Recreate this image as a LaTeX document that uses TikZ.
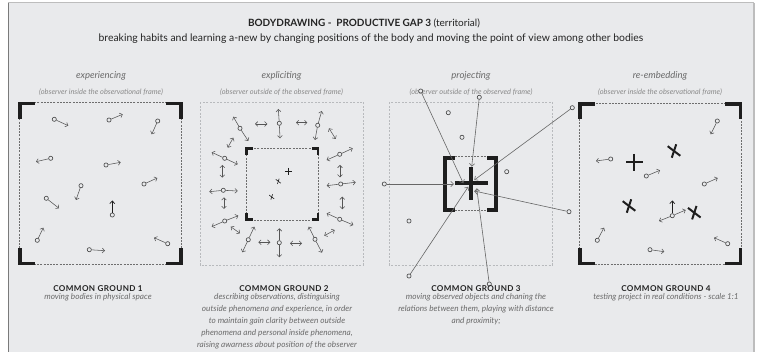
\documentclass[tikz,border=0pt]{standalone}
\usepackage{fontspec}
\setmainfont{Lato}
\usetikzlibrary{arrows.meta,calc}
\definecolor{bg}{HTML}{E9EAEC}
\definecolor{ink}{HTML}{1E1E1E}
\definecolor{arrc}{HTML}{555555}
\definecolor{circc}{HTML}{404040}
\definecolor{txt}{HTML}{232323}
\definecolor{itg}{HTML}{6A6A6A}
\definecolor{subg}{HTML}{8A8A8A}
\definecolor{ldash}{HTML}{B8BABD}
\definecolor{ddash}{HTML}{6E6E6E}
\definecolor{linec}{HTML}{666666}
\definecolor{frl}{HTML}{7A7A7A}
\definecolor{frr}{HTML}{BDBDBD}
\tikzset{
  body/.style={circle,draw=circc,fill=bg,inner sep=0pt,minimum size=4.2pt,line width=0.6pt},
  mv/.style={draw=arrc,line width=0.55pt,-{Straight Barb[length=2.4pt,width=4.8pt]}},
  mvk/.style={draw=ink,line width=0.75pt,-{Straight Barb[length=2.6pt,width=5pt]}},
  mvd/.style={draw=arrc,line width=0.55pt,{Straight Barb[length=2.4pt,width=4.8pt]}-{Straight Barb[length=2.4pt,width=4.8pt]}},
  ray/.style={draw=linec,line width=0.6pt,-{Straight Barb[length=2.8pt,width=5.2pt]}},
  outerdash/.style={draw=ldash,line width=0.6pt,dash pattern=on 2pt off 1.5pt},
  innerdash/.style={draw=ddash,line width=0.6pt,dash pattern=on 2pt off 1.2pt},
  bigmark/.style={draw=ink,line width=2pt},
  smallmark/.style={draw=ink,line width=0.6pt},
  ttl/.style={text=txt,inner sep=0pt},
  head/.style={text=itg,inner sep=0pt,font=\itshape\fontsize{9.5}{10}\selectfont},
  subhead/.style={text=subg,inner sep=0pt,font=\itshape\fontsize{7.4}{8}\selectfont},
  cg/.style={text=txt,inner sep=0pt,font=\bfseries\fontsize{8.1}{9}\selectfont\addfontfeatures{LetterSpace=5}},
  desc/.style={text=itg,inner sep=0pt,align=center,anchor=north,font=\itshape\fontsize{8.2}{11.9}\selectfont},
}
% body with one arrow
\newcommand{\bod}[3]{%
  \node[body] (#1) at (#2) {};
  \coordinate (#1t) at (#3);
  \draw[mv] (#1) -- (#1t);}
% body with two arrows
\newcommand{\bodd}[4]{%
  \node[body] (#1) at (#2) {};
  \coordinate (#1a) at (#3);
  \coordinate (#1b) at (#4);
  \draw[mv] (#1) -- (#1a);
  \draw[mv] (#1) -- (#1b);}
% double arrow, no body
\newcommand{\dar}[3]{%
  \coordinate (#1a) at (#2);
  \coordinate (#1b) at (#3);
  \draw[mvd] (#1a) -- (#1b);}
% corner brackets: x0 y0 x1 y1 len thick
\newcommand{\cornbox}[6]{%
  \fill[ink] (#1,#2) rectangle ({#1+#5},{#2+#6});
  \fill[ink] (#1,#2) rectangle ({#1+#6},{#2+#5});
  \fill[ink] (#3,#2) rectangle ({#3-#5},{#2+#6});
  \fill[ink] (#3,#2) rectangle ({#3-#6},{#2+#5});
  \fill[ink] (#1,#4) rectangle ({#1+#5},{#4-#6});
  \fill[ink] (#1,#4) rectangle ({#1+#6},{#4-#5});
  \fill[ink] (#3,#4) rectangle ({#3-#5},{#4-#6});
  \fill[ink] (#3,#4) rectangle ({#3-#6},{#4-#5});}
% rotated cross: style, x, y, scale
\newcommand{\xmark}[4]{%
  \draw[#1] ({#2-6.3*#4},{#3-4.8*#4}) -- ({#2+6.3*#4},{#3+4.8*#4});
  \draw[#1] ({#2-2.2*#4},{#3+6.7*#4}) -- ({#2+2.2*#4},{#3-6.7*#4});}
\begin{document}
\begin{tikzpicture}[x=1pt,y=-1pt]
\useasboundingbox (0,0) rectangle (761,352);
\fill[white] (0,0) rectangle (761,352);
\fill[bg] (8,3) rectangle (754,352);
\draw[frl,line width=1pt] (8,3) -- (8,352);
\draw[frr,line width=1pt] (8,3) -- (754,3);
\draw[frr,line width=2pt] (754,3) -- (754,352);

% ---------- titles ----------
\node[ttl,font=\bfseries\fontsize{10}{12}\selectfont] (title) at (364,23)
  {BODYDRAWING - \ PRODUCTIVE GAP 3 {\mdseries (territorial)}};
\node[ttl,font=\fontsize{10.4}{12}\selectfont] (subtitle) at (371,39)
  {breaking habits and learning a-new by changing positions of the body and moving the point of view among other bodies};

\node[head] (h1) at (101,76) {experiencing};
\node[head] (h2) at (281.5,76) {expliciting};
\node[head] (h3) at (471,76) {projecting};
\node[head] (h4) at (660,76) {re-embedding};
\node[subhead] (s1) at (101,92) {(observer inside the observational frame)};
\node[subhead] (s2) at (281.5,92) {(observer outside of the observed frame)};
\node[subhead] (s3) at (471,92) {(observer outside of the observed frame)};
\node[subhead] (s4) at (660,92) {(observer inside the observational frame)};

% ---------- panel 1 ----------
\draw[innerdash] (19.5,102.5) rectangle (181.5,264);
\cornbox{18.3}{101.7}{182.7}{265}{17}{3.4}
\bod{a1}{54.3,119.3}{68.3,125.7}
\bod{a2}{109,120}{122.7,114.3}
\bod{a3}{157.7,121}{151.7,134.3}
\bod{a4}{50.7,158.3}{36,161.7}
\bod{a5}{106,165}{120.7,162.3}
\bod{a6}{144,184}{157.3,178}
\bod{a7}{81,185.7}{76,200}
\bod{a8}{46.3,198.3}{59,208.3}
\node[body] (a9) at (112.3,215) {};
\coordinate (a9t) at (112.3,200.5);
\draw[mvk] (a9) -- (a9t);
\bod{a10}{37.3,240.3}{43.3,227.7}
\bod{a11}{89.3,249.7}{105,250.7}
\bod{a12}{167.7,243.7}{154,237.7}

% ---------- panel 2 ----------
\draw[outerdash] (200,102.3) rectangle (363.3,265);
\draw[innerdash] (246,148) rectangle (318.3,220);
\cornbox{245}{147}{319.3}{221}{7.7}{2.7}
\bodd{b1}{240,128.3}{233.3,116.7}{248.3,141}
\bodd{b3}{279.3,123.3}{278.3,109}{280,138.3}
\bodd{b5}{317.7,125.3}{321.7,111}{315,140}
\bodd{b8}{224.7,158.3}{211.7,152.3}{237.7,164.3}
\bodd{b10}{223.3,190.3}{209.3,191.7}{237.7,191}
\bodd{b12}{224.7,221}{211.7,226.7}{238.3,215.7}
\bodd{b14}{248.3,239.7}{254.3,226.7}{242.3,252.3}
\bodd{b16}{279.3,242.7}{279.3,228.3}{279.3,257.3}
\bodd{b18}{315,239.3}{308.7,226.7}{322,252.7}
\bodd{b20}{339.7,154.3}{326.7,160}{352.7,148.3}
\bodd{b22}{340.7,184}{326.7,185.7}{355.7,182.3}
\bodd{b24}{339.7,219.3}{326.7,213.3}{353.3,225}
\dar{d1}{255,124}{267.3,124}
\dar{d2}{296,122.7}{307.3,122.7}
\dar{d3}{329,128.3}{335.7,139}
\dar{d4}{233.3,137.7}{227.7,147.7}
\dar{d5}{222.3,165}{222.3,177.7}
\dar{d6}{224,197.3}{224,209}
\dar{d7}{230.7,226.7}{240,233.3}
\dar{d8}{258.3,242.3}{270.3,242.3}
\dar{d9}{290,243.3}{302,243.3}
\dar{d10}{324.3,235.7}{334.7,230}
\dar{d11}{340,165}{340,177.3}
\dar{d12}{342.3,196.7}{342.3,209.3}
\draw[smallmark] (284.8,171.3) -- (291.8,171.3) (288.3,167.8) -- (288.3,174.8);
\xmark{smallmark}{278.3}{181.3}{0.4}
\xmark{smallmark}{271.7}{197}{0.4}

% ---------- panel 3 ----------
\draw[outerdash] (389.3,102.3) rectangle (552.3,265);
\draw[innerdash] (455,156.5) -- (486.7,156.5) (455,210.8) -- (486.7,210.8);
\node[body] (p1) at (420.7,91) {};
\node[body] (p2) at (479.3,97.3) {};
\node[body] (p3) at (572.3,107.7) {};
\node[body] (p4) at (384.3,184) {};
\node[body] (p5) at (569,211.7) {};
\node[body] (p6) at (409,276) {};
\node[body] (p7) at (489.3,284) {};
\coordinate (p1t) at (463.3,183.3);
\coordinate (p2t) at (471.7,166.7);
\coordinate (p3t) at (474.3,180);
\coordinate (p4t) at (454,184);
\coordinate (p5t) at (474.3,191);
\coordinate (p6t) at (468.3,186.7);
\coordinate (p7t) at (476.7,188.3);
% brackets
\fill[ink] (443.3,155.7) rectangle (447.3,211.7);
\fill[ink] (443.3,155.7) rectangle (455,159.7);
\fill[ink] (443.3,207.7) rectangle (455,211.7);
\fill[ink] (494,155.7) rectangle (498,211.7);
\fill[ink] (486.7,155.7) rectangle (498,159.7);
\fill[ink] (486.7,207.7) rectangle (498,211.7);
% big plus
\fill[ink] (455,181.5) rectangle (488.3,185.5);
\fill[ink] (469,166.7) rectangle (473,200);
\foreach \i in {1,...,7} {\draw[ray] (p\i) -- (p\i t);}
\node[body] (q1) at (448.3,112.7) {};
\node[body] (q2) at (462,137.3) {};
\node[body] (q3) at (506.7,171.7) {};
\node[body] (q4) at (409,221) {};

% ---------- panel 4 ----------
\draw[innerdash] (579.5,103) rectangle (741.2,264);
\cornbox{578.3}{102.3}{742.3}{265}{17}{3.4}
\bod{c1}{717.3,121}{710.7,134.3}
\bod{c2}{610.7,159}{596,161}
\bod{c3}{646.3,176}{660,170.3}
\bod{c4}{704.3,184}{717.7,178}
\node[body] (c5) at (672.3,215.7) {};
\coordinate (c5u) at (672.3,200.5);
\coordinate (c5l) at (659,221);
\coordinate (c5r) at (685.7,210);
\draw[mvk] (c5) -- (c5u);
\draw[mv] (c5) -- (c5l);
\draw[mv] (c5) -- (c5r);
\bod{c6}{597.3,240.3}{604,227.7}
\bod{c7}{650,249.7}{664.3,251.7}
\bod{c8}{727.7,243.7}{714,237.7}
\draw[bigmark] (626,162.3) -- (642.6,162.3) (634.3,154) -- (634.3,170.6);
\xmark{bigmark}{674}{151}{1}
\xmark{bigmark}{629}{206}{1}
\xmark{bigmark}{694.3}{212.7}{1}

% ---------- common grounds ----------
\node[cg] (g1) at (98,288.5) {COMMON GROUND 1};
\node[cg] (g2) at (284,288.5) {COMMON GROUND 2};
\node[cg] (g3) at (476,288.5) {COMMON GROUND 3};
\node[cg] (g4) at (666,288.5) {COMMON GROUND 4};
\node[desc] (e1) at (98,293.6) {moving bodies in physical space};
\node[desc] (e2) at (277,293.6) {describing observations, distinguising\\outside phenomena and experience, in order\\to maintain gain clarity between outside\\phenomena and personal inside phenomena,\\raising awarness about position of the observer};
\node[desc] (e3) at (476,293.6) {moving observed objects and chaning the\\relations between them, playing with distance\\and proximity;};
\node[desc] (e4) at (666,293.6) {testing project in real conditions - scale 1:1};
\end{tikzpicture}
\end{document}
